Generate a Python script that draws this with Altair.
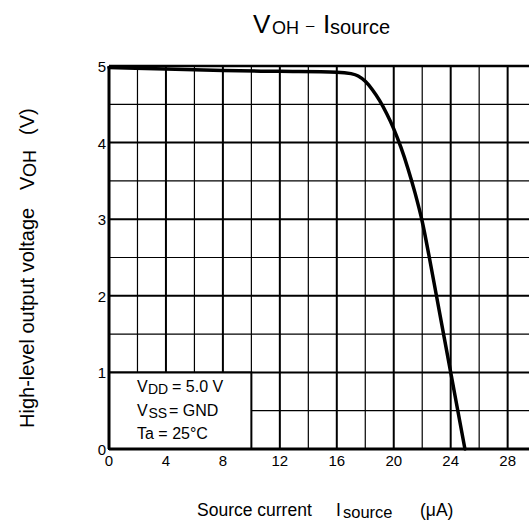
import altair as alt
import pandas as pd

# V_OH vs I_source characteristic (VDD = 5.0 V, Ta = 25 °C)
source_current = [0, 4, 8, 12, 16, 17, 17.5, 18, 18.5, 19, 19.5, 20, 20.5, 21, 21.5, 22, 22.5, 23, 24, 25]
output_voltage = [4.98, 4.96, 4.94, 4.93, 4.92, 4.90, 4.87, 4.80, 4.69, 4.55, 4.38, 4.18, 3.94, 3.66, 3.34, 2.97, 2.50, 2.00, 1.00, 0.00]

x_labels = [0, 4, 8, 12, 16, 20, 24, 28]
x_minor = [2, 6, 10, 14, 18, 22, 26]
y_labels = [0, 1, 2, 3, 4, 5]
y_minor = [0.5, 1.5, 2.5, 3.5, 4.5]

X_MAX = 29.5
Y_MAX = 5
FONT = "Liberation Sans"
PLOT_W = 420
PLOT_H = 383

x_scale = alt.Scale(domain=[0, X_MAX], nice=False, zero=False)
y_scale = alt.Scale(domain=[0, Y_MAX], nice=False, zero=False)

curve_df = pd.DataFrame({"I": source_current, "V": output_voltage})


def vgrid(values, width):
    df = pd.DataFrame({"x": values})
    return alt.Chart(df).mark_rule(color="black", strokeWidth=width).encode(
        x=alt.X("x:Q", scale=x_scale, axis=None),
        y=alt.value(0),
        y2=alt.value(PLOT_H),
    )


def hgrid(values, width):
    df = pd.DataFrame({"y": values})
    return alt.Chart(df).mark_rule(color="black", strokeWidth=width).encode(
        y=alt.Y("y:Q", scale=y_scale, axis=None),
        x=alt.value(0),
        x2=alt.value(PLOT_W),
    )


minor_v = vgrid(x_minor, 1.2)
major_v = vgrid([v for v in x_labels if v > 0], 2)
minor_h = hgrid(y_minor, 1.2)
major_h = hgrid([v for v in y_labels if 0 < v < Y_MAX], 2)

# Condition box in the lower-left corner
box_df = pd.DataFrame({"x0": [0], "x1": [10], "y0": [0], "y1": [1]})
box = alt.Chart(box_df).mark_rect(fill="white", stroke="black", strokeWidth=2).encode(
    x=alt.X("x0:Q", scale=x_scale, axis=None),
    x2="x1:Q",
    y=alt.Y("y0:Q", scale=y_scale, axis=None),
    y2="y1:Q",
)

# Frame: left, bottom and top edges
left_edge = alt.Chart(pd.DataFrame({"x": [0]})).mark_rule(color="black", strokeWidth=3).encode(
    x=alt.X("x:Q", scale=x_scale, axis=None), y=alt.value(0), y2=alt.value(PLOT_H))
bottom_edge = alt.Chart(pd.DataFrame({"y": [0]})).mark_rule(color="black", strokeWidth=3).encode(
    y=alt.Y("y:Q", scale=y_scale, axis=None), x=alt.value(0), x2=alt.value(PLOT_W))
top_edge = alt.Chart(pd.DataFrame({"y": [Y_MAX]})).mark_rule(color="black", strokeWidth=2.5).encode(
    y=alt.Y("y:Q", scale=y_scale, axis=None), x=alt.value(0), x2=alt.value(PLOT_W))

curve = alt.Chart(curve_df).mark_line(
    color="black", strokeWidth=3.5, interpolate="monotone", strokeCap="round"
).encode(
    x=alt.X("I:Q", scale=x_scale, axis=None),
    y=alt.Y("V:Q", scale=y_scale, axis=None),
)

# Tick labels placed through the shared scales
x_tick_text = alt.Chart(pd.DataFrame({"v": x_labels})).mark_text(
    font=FONT, fontSize=15, color="black", align="center", baseline="alphabetic"
).encode(
    x=alt.X("v:Q", scale=x_scale, axis=None),
    y=alt.value(PLOT_H + 17),
    text=alt.Text("v:Q", format="d"),
)
y_tick_text = alt.Chart(pd.DataFrame({"v": y_labels})).mark_text(
    font=FONT, fontSize=15, color="black", align="right", baseline="middle", dy=1
).encode(
    y=alt.Y("v:Q", scale=y_scale, axis=None),
    x=alt.value(-3),
    text=alt.Text("v:Q", format="d"),
)

# Text pieces: (text, x px, y px, font size, angle)
text_pieces = [
    # title
    ("V", 144, -33, 26, 0),
    ("OH", 163, -32, 18, 0),
    ("\u2013", 197, -36, 15, 0),
    ("I", 214, -33, 26, 0),
    ("source", 221, -32, 20, 0),
    # x-axis title
    ("Source current", 88, 450, 17.5, 0),
    ("I", 227, 450, 17.5, 0),
    ("source", 234, 452, 16.5, 0),
    ("(\u03bcA)", 311, 450, 17.5, 0),
    # y-axis title (rotated)
    ("High-level output voltage", -75, 362, 20, 270),
    ("V", -75, 124, 20, 270),
    ("OH", -73, 111, 18, 270),
    ("(V)", -75, 69, 20, 270),
    # conditions
    ("V", 28, 326, 16, 0),
    ("DD", 39, 328, 14, 0),
    ("= 5.0 V", 63, 326, 16, 0),
    ("V", 28, 350, 16, 0),
    ("SS", 39.5, 351.5, 14, 0),
    ("= GND", 60, 350, 16, 0),
    ("Ta = 25\u00b0C", 28, 373, 16, 0),
]

texts = []
for txt, px, py, size, ang in text_pieces:
    kw = dict(align="left", baseline="alphabetic", font=FONT, fontSize=size, color="black")
    if ang:
        kw["angle"] = ang
    texts.append(
        alt.Chart(pd.DataFrame({"t": [txt]})).mark_text(**kw).encode(
            text="t:N", x=alt.value(px), y=alt.value(py))
    )

chart = alt.layer(
    minor_v, minor_h, major_v, major_h, box, left_edge, bottom_edge, top_edge, curve,
    x_tick_text, y_tick_text, *texts
).properties(
    width=PLOT_W,
    height=PLOT_H,
    padding={"left": 109, "top": 66, "right": 0, "bottom": 77},
    autosize=alt.AutoSizeParams(type="none"),
    background="white",
).configure_view(stroke=None)

chart.save("out.html", embed_options={"renderer": "svg", "actions": False})
